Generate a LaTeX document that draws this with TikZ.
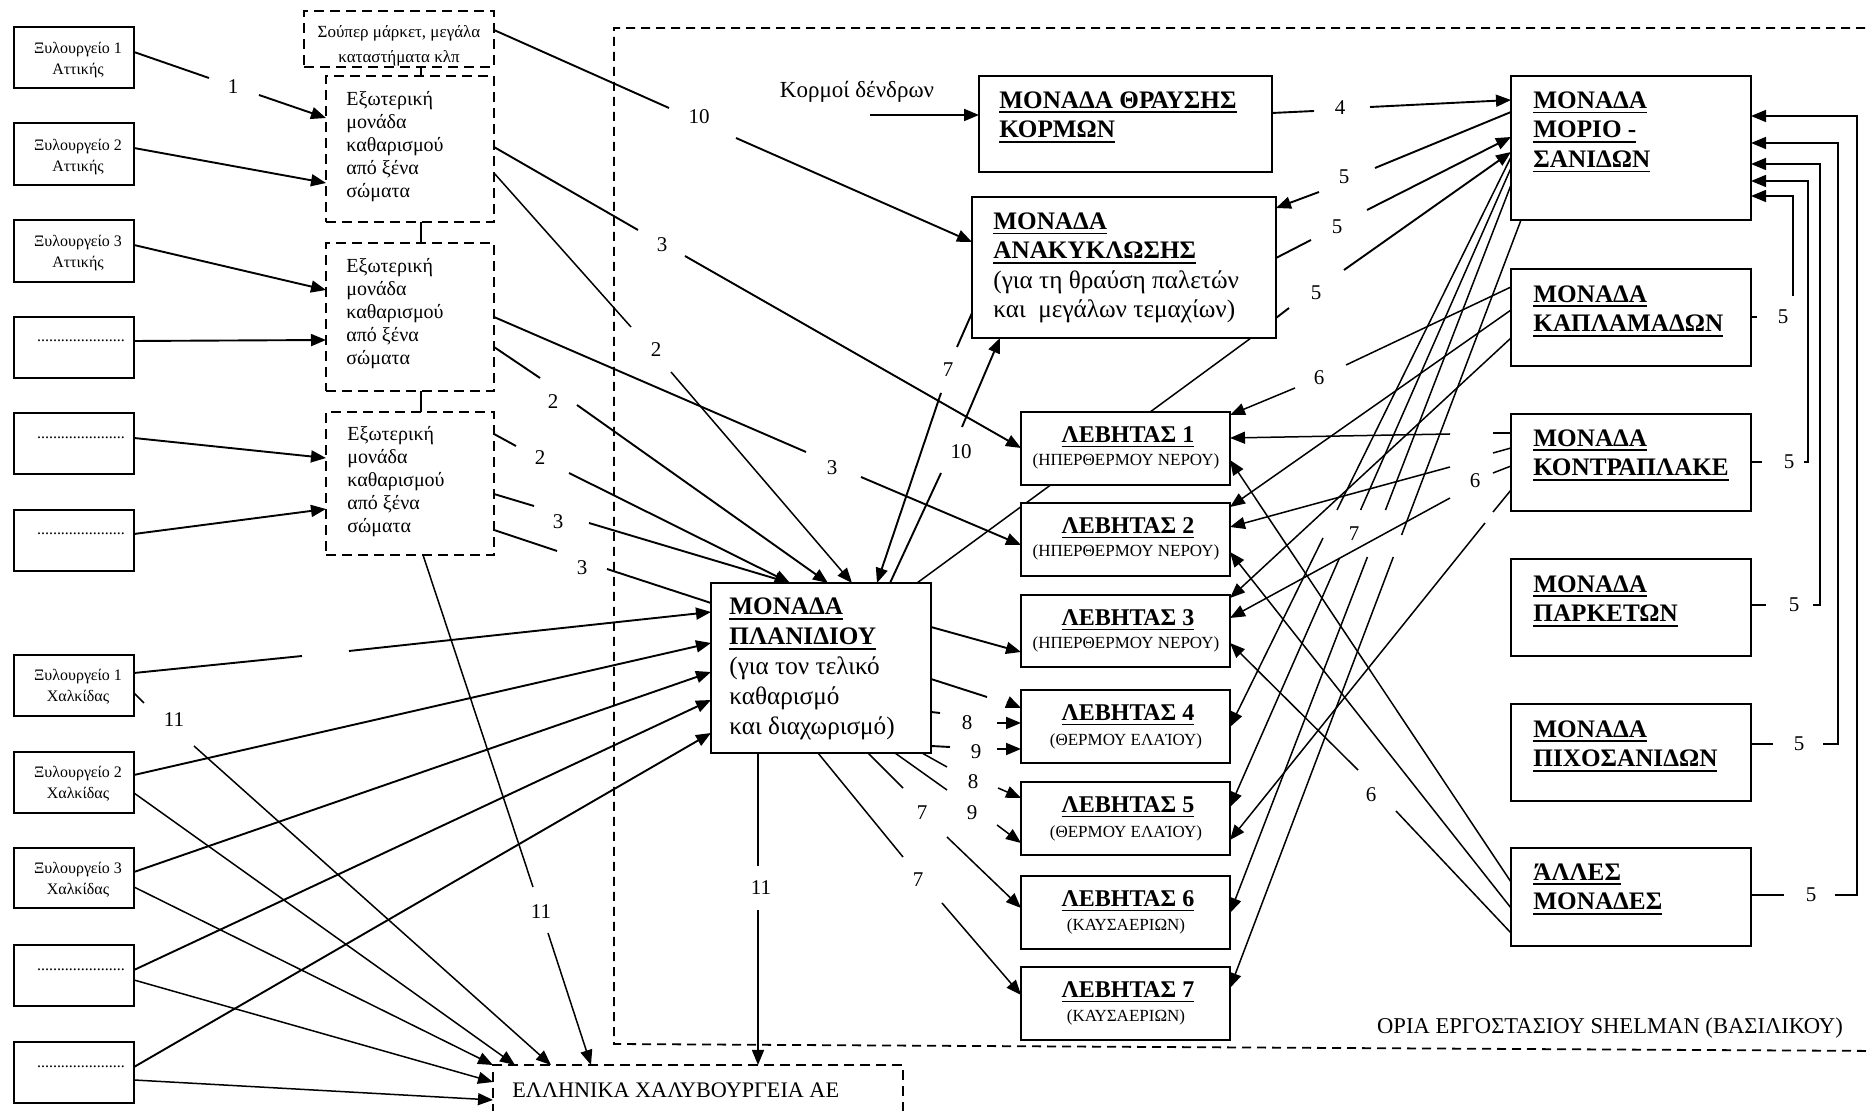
\documentclass[tikz,border=0pt]{standalone}
\usepackage{fontspec}
\setmainfont{Liberation Serif}
\usetikzlibrary{arrows.meta}
\pgfdeclarelayer{bg}
\pgfsetlayers{bg,main}
\newsavebox\ulbox
\newcommand\ul[1]{\sbox\ulbox{#1}\rlap{\vrule width\wd\ulbox height -1.6pt depth 2.5pt}\usebox\ulbox}
\newcommand\bx[6]{\node[#6,minimum width={(#4-#2)*0.5pt},minimum height={(#5-#3)*0.5pt}] (#1) at ({(#2+#4)/2},{(#3+#5)/2}) {};}
\begin{document}
\begin{tikzpicture}[x=0.5pt,y=-0.5pt,
  box/.style={draw,line width=0.9pt,fill=white,inner sep=0pt,outer sep=0pt},
  dbox/.style={box,dash pattern=on 5pt off 3pt},
  fb/.style={line width=0.9pt,dash pattern=on 4.5pt off 3pt},
  ln/.style={line width=0.75pt},
  ar/.style={ln,-{Triangle[length=7.5pt,width=6pt]}},
  lnT/.style={line width=0.95pt},
  arT/.style={lnT,-{Triangle[length=7.5pt,width=6pt]}},
  num/.style={font=\fontsize{10.5}{12}\selectfont,inner sep=0pt},
  sm/.style={font=\fontsize{8}{10.5}\selectfont,align=center,inner sep=0pt},
  ex/.style={font=\fontsize{10}{11.5}\selectfont,align=left,inner sep=0pt,anchor=west},
  un/.style={font=\fontsize{12.6}{14.75}\selectfont,align=left,inner sep=0pt,anchor=west},
  lt/.style={font=\fontsize{12}{14}\selectfont\bfseries,inner sep=0pt},
  ls/.style={font=\fontsize{8.5}{10}\selectfont,inner sep=0pt}]
\useasboundingbox (0,0) rectangle (1870,1111);
% ---------- boxes ----------
\bx{A1}{14}{27}{134}{88}{box}
\bx{A2}{14}{123}{134}{185}{box}
\bx{A3}{14}{220}{134}{282}{box}
\bx{D1}{14}{317}{134}{378}{box}
\bx{D2}{14}{413}{134}{474}{box}
\bx{D3}{14}{510}{134}{571}{box}
\bx{X1}{14}{655}{134}{716}{box}
\bx{X2}{14}{752}{134}{813}{box}
\bx{X3}{14}{848}{134}{908}{box}
\bx{D4}{14}{945}{134}{1006}{box}
\bx{D5}{14}{1042}{134}{1103}{box}
\bx{SM}{304}{11}{494}{67}{dbox}
\bx{E1}{326}{76}{494}{222}{dbox}
\bx{E2}{326}{243}{494}{391}{dbox}
\bx{E3}{326}{412}{494}{555}{dbox}
\bx{EL}{493}{1065}{903}{1150}{dbox}
\bx{TH}{979}{76}{1272}{172}{box}
\bx{AN}{972}{197}{1276}{338}{box}
\bx{PL}{711}{583}{931}{753}{box}
\bx{MR}{1511}{76}{1751}{220}{box}
\bx{KA}{1511}{269}{1751}{366}{box}
\bx{KO}{1511}{414}{1751}{511}{box}
\bx{PA}{1511}{559}{1751}{656}{box}
\bx{PI}{1511}{704}{1751}{801}{box}
\bx{AL}{1511}{848}{1751}{946}{box}
\bx{L1}{1021}{412}{1230}{485}{box}
\bx{L2}{1021}{503}{1230}{576}{box}
\bx{L3}{1021}{595}{1230}{667}{box}
\bx{L4}{1021}{690}{1230}{763}{box}
\bx{L5}{1021}{782}{1230}{855}{box}
\bx{L6}{1021}{876}{1230}{949}{box}
\bx{L7}{1021}{967}{1230}{1040}{box}
% ---------- texts ----------
\node[sm] (tA1) at (78,60) {Ξυλουργείο 1\\Αττικής};
\node[sm] (tA2) at (78,157) {Ξυλουργείο 2\\Αττικής};
\node[sm] (tA3) at (78,253) {Ξυλουργείο 3\\Αττικής};
\node[sm] (tD1) at (81,341) {......................};
\node[sm] (tD2) at (81,438) {......................};
\node[sm] (tD3) at (81,534) {......................};
\node[sm] (tX1) at (78,687) {Ξυλουργείο 1\\Χαλκίδας};
\node[sm] (tX2) at (78,784) {Ξυλουργείο 2\\Χαλκίδας};
\node[sm] (tX3) at (78,880) {Ξυλουργείο 3\\Χαλκίδας};
\node[sm] (tD4) at (81,970) {......................};
\node[sm] (tD5) at (81,1067) {......................};
\node[font=\fontsize{8.5}{12.5}\selectfont,align=center,inner sep=0pt] (tSM) at (399,46) {Σούπερ μάρκετ, μεγάλα\\καταστήματα κλπ};
\node[ex] (tE1) at (346,147) {Εξωτερική\\μονάδα\\καθαρισμού\\από ξένα\\σώματα};
\node[ex] (tE2) at (346,314) {Εξωτερική\\μονάδα\\καθαρισμού\\από ξένα\\σώματα};
\node[ex] (tE3) at (347,482) {Εξωτερική\\μονάδα\\καθαρισμού\\από ξένα\\σώματα};
\node[font=\fontsize{11.1}{12}\selectfont,inner sep=0pt,anchor=west] (tEL) at (512,1090) {ΕΛΛΗΝΙΚΑ ΧΑΛΥΒΟΥΡΓΕΙΑ ΑΕ};
\node[font=\fontsize{11.3}{12}\selectfont,inner sep=0pt] (tFB) at (1610,1028) {ΟΡΙΑ ΕΡΓΟΣΤΑΣΙΟΥ SHELMAN (ΒΑΣΙΛΙΚΟΥ)};
\node[font=\fontsize{11.5}{13}\selectfont,inner sep=0pt] (tKo) at (857,92) {Κορμοί δένδρων};
\node[un] (tTH) at (999,117) {\textbf{\ul{ΜΟΝΑΔΑ ΘΡΑΥΣΗΣ}}\\\textbf{\ul{ΚΟΡΜΩΝ}}};
\node[un] (tAN) at (993,268) {\textbf{\ul{ΜΟΝΑΔΑ}}\\\textbf{\ul{ΑΝΑΚΥΚΛΩΣΗΣ}}\\(για τη θραύση παλετών\\και\ \ μεγάλων τεμαχίων)};
\node[un,font=\fontsize{12.6}{15}\selectfont] (tPL) at (729,669) {\textbf{\ul{ΜΟΝΑΔΑ}}\\\textbf{\ul{ΠΛΑΝΙΔΙΟΥ}}\\(για τον τελικό\\καθαρισμό\\και διαχωρισμό)};
\node[un] (tMR) at (1533,132) {\textbf{\ul{ΜΟΝΑΔΑ}}\\\textbf{\ul{ΜΟΡΙΟ -}}\\\textbf{\ul{ΣΑΝΙΔΩΝ}}};
\node[un] (tKA) at (1533,311) {\textbf{\ul{ΜΟΝΑΔΑ}}\\\textbf{\ul{ΚΑΠΛΑΜΑΔΩΝ}}};
\node[un] (tKO) at (1533,455) {\textbf{\ul{ΜΟΝΑΔΑ}}\\\textbf{\ul{ΚΟΝΤΡΑΠΛΑΚΕ}}};
\node[un] (tPA) at (1533,601) {\textbf{\ul{ΜΟΝΑΔΑ}}\\\textbf{\ul{ΠΑΡΚΕΤΩΝ}}};
\node[un] (tPI) at (1533,746) {\textbf{\ul{ΜΟΝΑΔΑ}}\\\textbf{\ul{ΠΙΧΟΣΑΝΙΔΩΝ}}};
\node[un] (tAL) at (1533,889) {\textbf{\ul{ΆΛΛΕΣ}}\\\textbf{\ul{ΜΟΝΑΔΕΣ}}};
\node[lt] (tL1) at (1128,437) {\ul{ΛΕΒΗΤΑΣ 1}};
\node[ls] (sL1) at (1126,461) {(ΗΠΕΡΘΕΡΜΟΥ ΝΕΡΟΥ)};
\node[lt] (tL2) at (1128,528) {\ul{ΛΕΒΗΤΑΣ 2}};
\node[ls] (sL2) at (1126,552) {(ΗΠΕΡΘΕΡΜΟΥ ΝΕΡΟΥ)};
\node[lt] (tL3) at (1128,620) {\ul{ΛΕΒΗΤΑΣ 3}};
\node[ls] (sL3) at (1126,644) {(ΗΠΕΡΘΕΡΜΟΥ ΝΕΡΟΥ)};
\node[lt] (tL4) at (1128,715) {\ul{ΛΕΒΗΤΑΣ 4}};
\node[ls] (sL4) at (1126,741) {(ΘΕΡΜΟΥ ΕΛΑΊΟΥ)};
\node[lt] (tL5) at (1128,807) {\ul{ΛΕΒΗΤΑΣ 5}};
\node[ls] (sL5) at (1126,833) {(ΘΕΡΜΟΥ ΕΛΑΊΟΥ)};
\node[lt] (tL6) at (1128,901) {\ul{ΛΕΒΗΤΑΣ 6}};
\node[ls] (sL6) at (1126,926) {(ΚΑΥΣΑΕΡΙΩΝ)};
\node[lt] (tL7) at (1128,992) {\ul{ΛΕΒΗΤΑΣ 7}};
\node[ls] (sL7) at (1126,1017) {(ΚΑΥΣΑΕΡΙΩΝ)};
% ---------- number labels ----------
\node[num] (n1) at (233,87) {1};
\node[num] (n10a) at (699,117) {10};
\node[num] (n3a) at (662,245) {3};
\node[num] (n2a) at (656,350) {2};
\node[num] (n3b) at (832,468) {3};
\node[num] (n2b) at (553,402) {2};
\node[num] (n2c) at (540,458) {2};
\node[num] (n3c) at (558,522) {3};
\node[num] (n3d) at (582,568) {3};
\node[num] (n11a) at (174,720) {11};
\node[num] (n11b) at (541,912) {11};
\node[num] (n11c) at (761,888) {11};
\node[num] (n7a) at (948,370) {7};
\node[num] (n10b) at (961,452) {10};
\node[num] (n8a) at (967,723) {8};
\node[num] (n9a) at (976,752) {9};
\node[num] (n8b) at (973,782) {8};
\node[num] (n9b) at (972,813) {9};
\node[num] (n7b) at (922,813) {7};
\node[num] (n7c) at (918,880) {7};
\node[num] (n4) at (1340,108) {4};
\node[num] (n5a) at (1344,177) {5};
\node[num] (n5b) at (1337,227) {5};
\node[num] (n5c) at (1316,293) {5};
\node[num] (n6a) at (1319,378) {6};
\node[num] (n6b) at (1475,481) {6};
\node[num] (n7d) at (1354,534) {7};
\node[num] (n6c) at (1371,795) {6};
\node[num] (n5d) at (1783,317) {5};
\node[num] (n5e) at (1789,462) {5};
\node[num] (n5f) at (1794,605) {5};
\node[num] (n5g) at (1799,744) {5};
\node[num] (n5h) at (1811,895) {5};
% ---------- connectors ----------
\begin{pgfonlayer}{bg}
\draw[fb] (1880,28) -- (614,28) -- (614,1044) -- (1880,1051);
\draw[lnT] (SM.south -| 421,0) -- (E1.north -| 421,0);
\draw[lnT] (E1.south -| 421,0) -- (E2.north -| 421,0);
\draw[lnT] (E2.south -| 421,0) -- (E3.north -| 421,0);
% left column into E boxes
\draw[lnT] (A1.east |- 0,52) -- (209,78);
\draw[arT] (259,95) -- (E1.west |- 0,118);
\draw[arT] (A2.east |- 0,148) -- (E1.west |- 0,183);
\draw[arT] (A3.east |- 0,245) -- (E2.west |- 0,290);
\draw[arT] (D1.east |- 0,341) -- (E2.west |- 0,340);
\draw[arT] (D2.east |- 0,438) -- (E3.west |- 0,458);
\draw[arT] (D3.east |- 0,534) -- (E3.west |- 0,509);
% supermarket 10
\draw[lnT] (SM.east |- 0,30) -- (669,108);
\draw[arT] (736,138) -- (AN.west |- 0,242);
% from E boxes
\draw[lnT] (E1.east |- 0,147) -- (638,230);
\draw[arT] (685,256) -- (L1.west |- 0,448);
\draw[ln] (E1.east |- 0,173) -- (631,327);
\draw[ar] (671,372) -- (PL.north -| 852,0);
\draw[lnT] (E2.east |- 0,317) -- (806,452);
\draw[arT] (861,477) -- (L2.west |- 0,545);
\draw[lnT] (E2.east |- 0,347) -- (540,378);
\draw[arT] (577,405) -- (PL.north -| 828,0);
\draw[lnT] (E3.east |- 0,434) -- (516,446);
\draw[arT] (569,473) -- (PL.north -| 790,0);
\draw[lnT] (E3.east |- 0,494) -- (534,506);
\draw[arT] (589,523) -- (PL.north -| 790,0);
\draw[lnT] (E3.east |- 0,530) -- (557,551);
\draw[lnT] (607,569) -- (PL.west |- 0,603);
% lower left into PL
\draw[lnT] (X1.east |- 0,673) -- (302,656);
\draw[arT] (349,651) -- (PL.west |- 0,612);
\draw[arT] (X2.east |- 0,775) -- (PL.west |- 0,643);
\draw[arT] (X3.east |- 0,872) -- (PL.west |- 0,672);
\draw[arT] (D4.east |- 0,970) -- (PL.west |- 0,700);
\draw[arT] (D5.east |- 0,1067) -- (PL.west |- 0,733);
% into EL
\draw[ln] (X1.east |- 0,693) -- (144,703);
\draw[ar] (194,746) -- (EL.north -| 551,0);
\draw[ln] (E3.south -| 423,0) -- (533,887);
\draw[ar] (548,933) -- (EL.north -| 591,0);
\draw[ln] (PL.south -| 758,0) -- (758,866);
\draw[ar] (758,910) -- (EL.north -| 758,0);
\draw[ar] (X2.east |- 0,793) -- (EL.north -| 515,0);
\draw[ar] (X3.east |- 0,887) -- (EL.north west);
\draw[ar] (D4.east |- 0,980) -- (EL.west |- 0,1082);
\draw[ar] (D5.east |- 0,1080) -- (EL.west |- 0,1100);
% AN <-> PL
\draw[lnT] (AN.west |- 0,313) -- (957,347);
\draw[arT] (941,393) -- (PL.north -| 877,0);
\draw[lnT] (PL.north -| 890,0) -- (941,473);
\draw[arT] (962,427) -- (AN.south -| 1000,0);
\draw[ln] (PL.north -| 917,0) -- (AN.south -| 1251,0);
% PL -> boilers
\draw[arT] (PL.east |- 0,627) -- (L3.west |- 0,652);
\draw[lnT] (PL.east |- 0,679) -- (987,697);
\draw[arT] (1007,702) -- (L4.west |- 0,708);
\draw[lnT] (PL.east |- 0,712) -- (940,713);
\draw[arT] (997,723) -- (L4.west |- 0,723);
\draw[lnT] (PL.east |- 0,746) -- (950,747);
\draw[arT] (997,749) -- (L4.west |- 0,749);
\draw[ln] (PL.south -| 922,0) -- (947,767);
\draw[ar] (998,788) -- (L5.west |- 0,798);
\draw[ln] (PL.south -| 895,0) -- (947,790);
\draw[ar] (997,825) -- (L5.west |- 0,843);
\draw[ln] (PL.south -| 868,0) -- (903,788);
\draw[ar] (947,837) -- (L6.west |- 0,908);
\draw[ln] (PL.south -| 818,0) -- (903,857);
\draw[ar] (942,903) -- (L7.west |- 0,995);
% logs
\coordinate (kin) at (870,115);
\draw[arT] (kin) -- (TH.west |- kin);
% 4 and 5 around MR / AN
\draw[lnT] (TH.east |- 0,113) -- (1314,111);
\draw[arT] (1370,107) -- (MR.west |- 0,100);
\draw[lnT] (MR.west |- 0,112) -- (1375,168);
\draw[arT] (1319,192) -- (AN.east |- 0,208);
\draw[lnT] (AN.east |- 0,258) -- (1311,240);
\draw[arT] (1367,210) -- (MR.west |- 0,137);
\draw[lnT] (AN.east |- 0,318) -- (1289,308);
\draw[arT] (1344,270) -- (MR.west |- 0,152);
% KA -> boilers
\draw[ln] (KA.west |- 0,287) -- (1346,365);
\draw[ar] (1295,388) -- (L1.east |- 0,415);
\draw[ar] (KA.west |- 0,310) -- (L2.east |- 0,507);
\draw[ar] (KA.west |- 0,338) -- (L3.east |- 0,598);
% KO -> boilers
\draw[ln] (KO.west |- 0,433) -- (1493,433);
\draw[ar] (1450,434) -- (L1.east |- 0,438);
\draw[ln] (KO.west |- 0,448) -- (1493,453);
\draw[ar] (1450,467) -- (L2.east |- 0,527);
\draw[ln] (KO.west |- 0,466) -- (1493,473);
\draw[ar] (1450,498) -- (L3.east |- 0,618);
\draw[ln] (KO.west |- 0,490) -- (1493,512);
\draw[ar] (1485,523) -- (L5.east |- 0,840);
% AL -> boilers
\draw[ar] (AL.west |- 0,882) -- (L1.east |- 0,460);
\draw[ar] (AL.west |- 0,908) -- (L2.east |- 0,552);
\draw[ln] (AL.west |- 0,933) -- (1396,811);
\draw[ar] (1358,770) -- (L3.east |- 0,643);
% MR -> boilers 4-7
\draw[ln] (MR.west |- 0,157) -- (1337,510);
\draw[ar] (1323,538) -- (L4.east |- 0,727);
\draw[ln] (MR.west |- 0,168) -- (1360.6,510);
\draw[ar] (1339.5,558) -- (L5.east |- 0,807);
\draw[ln] (MR.west |- 0,185) -- (1385.5,510);
\draw[ar] (1367.4,557) -- (L6.east |- 0,913);
\draw[ln] (MR.south -| 1521,0) -- (1401.6,535);
\draw[ar] (1393.3,557) -- (L7.east |- 0,988);
% feedback 5 into MR
\draw[ln] (KA.east |- 0,317) -- (1757,317);
\draw[ar] (1793,296) -- (1793,196) -- (MR.east |- 0,196);
\draw[ln] (KO.east |- 0,462) -- (1762,462);
\draw[ar] (1804,462) -- (1808,462) -- (1808,181) -- (MR.east |- 0,181);
\draw[ln] (PA.east |- 0,605) -- (1766,605);
\draw[ar] (1813,605) -- (1820,605) -- (1820,164) -- (MR.east |- 0,164);
\draw[ln] (PI.east |- 0,744) -- (1773,744);
\draw[ar] (1823,744) -- (1838,744) -- (1838,143) -- (MR.east |- 0,143);
\draw[ln] (AL.east |- 0,895) -- (1784,895);
\draw[ar] (1835,895) -- (1857,895) -- (1857,116) -- (MR.east |- 0,116);
\end{pgfonlayer}
\end{tikzpicture}
\end{document}
